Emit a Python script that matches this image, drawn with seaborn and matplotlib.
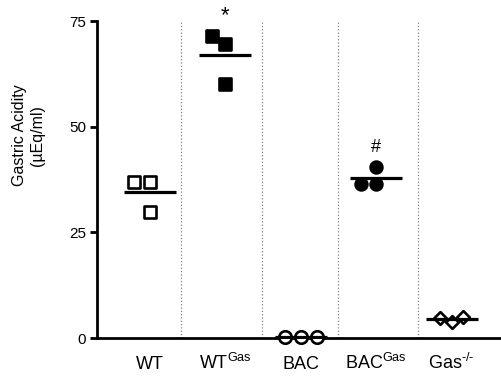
import matplotlib
matplotlib.use("Agg")
import matplotlib.pyplot as plt
import seaborn as sns
import pandas as pd

categories = ["WT", "WTGas", "BAC", "BACGas", "Gas-/-"]
tick_labels = ["WT", "WT$^{\\mathrm{Gas}}$", "BAC", "BAC$^{\\mathrm{Gas}}$", "Gas$^{\\mathrm{‐/‐}}$"]
wt = [36.9, 36.9, 29.8]
wt_gas = [71.5, 69.5, 60.0]
bac = [0.2, 0.3, 0.3]
bac_gas = [40.5, 36.5, 36.5]
gas_ko = [4.7, 3.8, 5.0]

sns.set_style("ticks")
plt.rcParams["font.family"] = ["Liberation Sans", "DejaVu Sans"]
plt.rcParams["mathtext.fontset"] = "custom"
plt.rcParams["mathtext.rm"] = "Liberation Sans"
plt.rcParams["mathtext.it"] = "Liberation Sans:italic"
for key in ["text.color", "axes.labelcolor", "xtick.color", "ytick.color", "axes.edgecolor"]:
    plt.rcParams[key] = "black"

values = [wt, wt_gas, bac, bac_gas, gas_ko]
df = pd.DataFrame({
    "group": [c for c, v in zip(categories, values) for _ in v],
    "acidity": [x for v in values for x in v],
})

fig = plt.figure(figsize=(5.01, 3.76), dpi=100)
ax = fig.add_axes([0.194, 0.101, 0.804, 0.843])

styles = {
    "WT": dict(marker="s", facecolor="white", size=9),
    "WTGas": dict(marker="s", facecolor="black", size=9),
    "BAC": dict(marker="o", facecolor="white", size=9),
    "BACGas": dict(marker="o", facecolor="black", size=8.5),
    "Gas-/-": dict(marker="D", facecolor="white", size=6.5),
}
for cat in categories:
    st = styles[cat]
    sns.swarmplot(data=df[df["group"] == cat], x="group", y="acidity", order=categories,
                  marker=st["marker"], color=st["facecolor"], edgecolor="black",
                  linewidth=1.9, size=st["size"], ax=ax, zorder=3, clip_on=False)

# group means
sns.pointplot(data=df, x="group", y="acidity", order=categories, errorbar=None,
              color="black", markers="_", linestyle="none", markersize=38,
              markeredgewidth=2.3, ax=ax, zorder=4)

for xd in [0.41, 1.48, 2.49, 3.55]:
    ax.axvline(xd, color="gray", linestyle=":", linewidth=0.9, zorder=1)

ax.text(1, 76.2, "*", ha="center", va="center", fontsize=16, clip_on=False)
ax.text(3, 45, "#", ha="center", va="center", fontsize=13)

ax.set_xlim(-0.70, 4.64)
ax.set_ylim(0, 75)
ax.set_yticks([0, 25, 50, 75])
ax.set_xticks(range(len(categories)))
ax.set_xticklabels(tick_labels, fontsize=13)
ax.tick_params(axis="x", length=0, pad=22)
for lbl in ax.get_xticklabels():
    lbl.set_va("baseline")
ax.tick_params(axis="y", length=5, width=2, labelsize=11, pad=3)
ax.set_xlabel("")
ax.set_ylabel("Gastric Acidity\n(µEq/ml)", fontsize=11.5)
ax.yaxis.set_label_coords(-0.13, 0.64)
for s in ["top", "right"]:
    ax.spines[s].set_visible(False)
for s in ["left", "bottom"]:
    ax.spines[s].set_linewidth(2)

fig.savefig("out.png", dpi=100)
